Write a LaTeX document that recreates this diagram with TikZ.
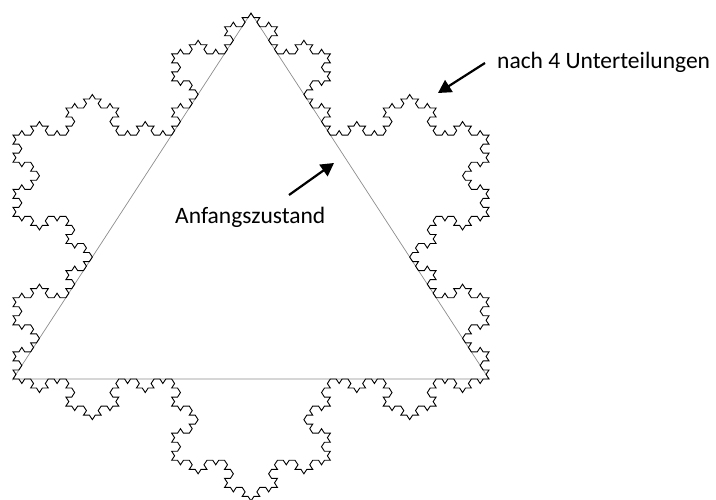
\documentclass[tikz,border=0pt]{standalone}
\usepackage{fontspec}
\setmainfont{Carlito}
\usetikzlibrary{lindenmayersystems,arrows.meta}

% Koch curve rule: each segment is replaced by four, with the bump on the right
\pgfdeclarelindenmayersystem{KochFlake}{
  \rule{F -> F-F++F-F}
}

\tikzset{
  flake/.style={draw=black, line width=0.9pt, line join=miter},
  startshape/.style={draw=black!45, line width=0.7pt},
  pointer/.style={-{Triangle[length=13pt,width=14pt]}, line width=2.2pt, black},
  caption/.style={font=\fontsize{23.5}{28}\selectfont, anchor=base west, inner sep=0pt}
}

\begin{document}
\begin{tikzpicture}[x=1pt,y=-1pt]
  \useasboundingbox (0,0) rectangle (716,500);

  % initial triangle
  \coordinate (bl) at (13,379);
  \coordinate (br) at (489,379);
  \coordinate (tp) at (251,13);
  \draw[startshape] (bl) -- (br) -- (tp) -- cycle;

  % snowflake after four subdivisions (side 476pt, height squeezed to 366pt)
  \draw[flake, shift={(13,379)}, yscale=0.8876]
    [l-system={KochFlake, axiom=F++F++F, order=4, step=5.876543pt, angle=60}]
    lindenmayer system -- cycle;

  % labels
  \node[caption] (lbl4) at (497,69) {nach 4 Unterteilungen};
  \node[caption] (lbl0) at (175,224) {Anfangszustand};

  % pointers
  \coordinate (p4s) at (485,63);
  \coordinate (p4e) at (438,93);
  \coordinate (p0s) at (289,195);
  \coordinate (p0e) at (334,163);
  \draw[pointer] (p4s) -- (p4e);
  \draw[pointer] (p0s) -- (p0e);
\end{tikzpicture}
\end{document}
